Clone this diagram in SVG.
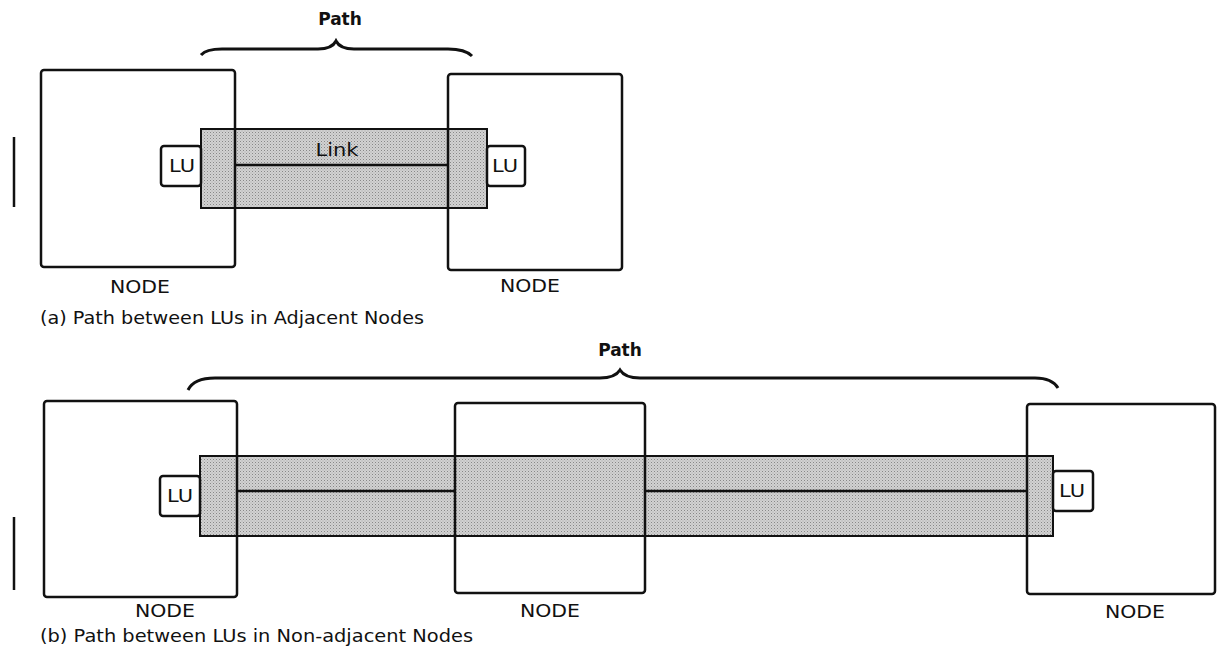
<svg xmlns="http://www.w3.org/2000/svg" width="1225" height="655" viewBox="0 0 1225 655">
<defs>
<pattern id="dots" width="3" height="3" patternUnits="userSpaceOnUse">
<rect width="3" height="3" fill="#d2d2d2"/>
<rect width="1" height="1" fill="#888"/>
<rect x="1.5" y="1.5" width="1" height="1" fill="#a8a8a8"/>
</pattern>
<style>
.node{fill:none;stroke:#111;stroke-width:2.5}
.band{fill:url(#dots);stroke:#111;stroke-width:2}
.lu{fill:#fff;stroke:#111;stroke-width:2.5}
.ln{stroke:#111;stroke-width:2.5;fill:none}
.brace{fill:none;stroke:#111;stroke-width:3}
.t{font-family:"DejaVu Sans","Liberation Sans",sans-serif;fill:#111}
.lbl{font-size:18px}
.cap{font-size:17px}
.path{font-size:17px;font-weight:bold}
</style>
</defs>

<!-- (a) -->
<g id="bar-a"><line class="ln" x1="14" y1="137" x2="14" y2="207" stroke-width="3"/></g>
<g id="path-a">
<path class="brace" d="M201 55 Q206 49 222 49 L318 49 Q332 49 336 41 Q340 49 354 49 L448 49 Q465 49 472 56"/>
<text class="t path" x="340" y="25" text-anchor="middle">Path</text>
</g>
<g id="link-a">
<rect class="band" x="201" y="129" width="286" height="79"/>
</g>
<g id="connectors-a">
<line class="ln" x1="235" y1="165" x2="448" y2="165"/>
</g>
<g id="node-a1">
<rect class="node" x="41" y="70" width="194" height="197" rx="3"/>
<text class="t lbl" x="140" y="293" text-anchor="middle" textLength="60" lengthAdjust="spacingAndGlyphs">NODE</text>
</g>
<g id="node-a2">
<rect class="node" x="448" y="74" width="174" height="196" rx="3"/>
<text class="t lbl" x="530" y="292" text-anchor="middle" textLength="60" lengthAdjust="spacingAndGlyphs">NODE</text>
</g>
<g id="lu-a1">
<rect class="lu" x="161" y="146" width="40" height="40" rx="3"/>
<text class="t lbl" x="182" y="172" text-anchor="middle" textLength="26" lengthAdjust="spacingAndGlyphs">LU</text>
</g>
<g id="lu-a2">
<rect class="lu" x="487" y="146" width="38" height="40" rx="3"/>
<text class="t lbl" x="505" y="172" text-anchor="middle" textLength="26" lengthAdjust="spacingAndGlyphs">LU</text>
</g>
<text class="t lbl" x="337" y="156" text-anchor="middle" textLength="43" lengthAdjust="spacingAndGlyphs">Link</text>
<text class="t cap" x="40" y="324" textLength="384" lengthAdjust="spacingAndGlyphs">(a)  Path between LUs in Adjacent Nodes</text>

<!-- (b) -->
<g id="bar-b"><line class="ln" x1="14" y1="517" x2="14" y2="590" stroke-width="3"/></g>
<g id="path-b">
<path class="brace" d="M188 390 Q194 378 215 378 L600 378 Q615 378 620 370 Q625 378 640 378 L1035 378 Q1052 378 1058 388"/>
<text class="t path" x="620" y="356" text-anchor="middle">Path</text>
</g>
<g id="link-b">
<rect class="band" x="200" y="456" width="853" height="80"/>
</g>
<g id="connectors-b">
<line class="ln" x1="237" y1="491" x2="455" y2="491"/>
<line class="ln" x1="645" y1="491" x2="1027" y2="491"/>
</g>
<g id="node-b1">
<rect class="node" x="44" y="401" width="193" height="196" rx="3"/>
<text class="t lbl" x="165" y="617" text-anchor="middle" textLength="60" lengthAdjust="spacingAndGlyphs">NODE</text>
</g>
<g id="node-b2">
<rect class="node" x="455" y="403" width="190" height="190" rx="3"/>
<text class="t lbl" x="550" y="617" text-anchor="middle" textLength="60" lengthAdjust="spacingAndGlyphs">NODE</text>
</g>
<g id="node-b3">
<rect class="node" x="1027" y="404" width="188" height="190" rx="3"/>
<text class="t lbl" x="1135" y="618" text-anchor="middle" textLength="60" lengthAdjust="spacingAndGlyphs">NODE</text>
</g>
<g id="lu-b1">
<rect class="lu" x="160" y="476" width="40" height="40" rx="3"/>
<text class="t lbl" x="180" y="502" text-anchor="middle" textLength="26" lengthAdjust="spacingAndGlyphs">LU</text>
</g>
<g id="lu-b2">
<rect class="lu" x="1053" y="471" width="40" height="40" rx="3"/>
<text class="t lbl" x="1072" y="497" text-anchor="middle" textLength="26" lengthAdjust="spacingAndGlyphs">LU</text>
</g>
<text class="t cap" x="40" y="642" textLength="433" lengthAdjust="spacingAndGlyphs">(b)  Path between LUs in Non-adjacent Nodes</text>
</svg>
